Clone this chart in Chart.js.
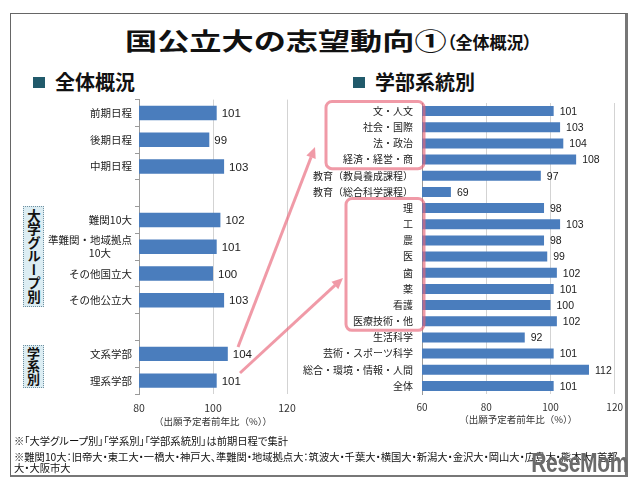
<!DOCTYPE html>
<html lang="ja">
<head>
<meta charset="utf-8">
<script src="https://cdn.jsdelivr.net/npm/chart.js@4.4.1/dist/chart.umd.min.js"></script>
<style>
body{margin:0;width:640px;height:485px;background:#fff;position:relative;overflow:hidden;font-family:"Noto Sans CJK JP",sans-serif;color:#111;}
.abs{position:absolute;white-space:nowrap;}
#frame{position:absolute;left:10px;top:13px;width:614px;height:461px;border:1px solid #666;border-right:3px solid #777;border-bottom:2px solid #777;}
#title{left:125px;top:28px;font-size:24px;line-height:24px;font-weight:bold;transform:scaleX(1.34);transform-origin:left center;}
#subtitle{left:447px;top:33px;font-size:17px;line-height:18px;font-weight:bold;font-feature-settings:"palt";}
.sq{position:absolute;width:12px;height:11px;background:#215a6b;}
.hdr{font-size:20px;line-height:20px;font-weight:bold;}
.vbox{position:absolute;background:#dcedf3;border:1px dotted #6f8f9f;writing-mode:vertical-rl;font-weight:bold;color:#111;text-align:center;white-space:nowrap;}
.foot{font-size:10.3px;line-height:12px;font-feature-settings:"palt";color:#111;}
canvas{position:absolute;}
#logo{right:12px;top:448px;font-family:"Liberation Sans",sans-serif;font-weight:bold;font-size:27px;color:#6b6b6b;transform:scaleX(0.78);transform-origin:right center;letter-spacing:-0.5px;}
</style>
</head>
<body>
<div id="frame"></div>
<div class="abs" id="title">国公立大の志望動向①</div>
<div class="abs" id="subtitle">（全体概況）</div>

<div class="sq" style="left:33px;top:77px"></div>
<div class="abs hdr" style="left:55px;top:72px">全体概況</div>
<div class="sq" style="left:353px;top:77px"></div>
<div class="abs hdr" style="left:375px;top:72px">学部系統別</div>

<div class="vbox" style="left:23px;top:206px;width:19px;height:99px;font-size:13.5px;line-height:19px">大学グループ別</div>
<div class="vbox" style="left:23px;top:345px;width:19px;height:41px;font-size:13px;line-height:19px">学系別</div>

<canvas id="overview" width="265" height="342" style="left:45px;top:90px"></canvas>
<canvas id="faculty" width="330" height="338" style="left:300px;top:88px"></canvas>
<canvas id="notes" width="640" height="485" style="left:0;top:0;pointer-events:none"></canvas>

<div class="abs foot" style="left:14px;top:435px">※「大学グループ別」「学系別」「学部系統別」は前期日程で集計</div>
<div class="abs foot" style="left:14px;top:451px">※難関10大：旧帝大・東工大・一橋大・神戸大、準難関・地域拠点大：筑波大・千葉大・横国大・新潟大・金沢大・岡山大・広島大・熊本大・首都</div>
<div class="abs foot" style="left:14px;top:462px">大・大阪市大</div>
<div class="abs" id="logo">ReseMom</div>

<script>
// 全体概況
const overviewLabels=['前期日程','後期日程','中期日程','','難関10大',['準難関・地域拠点','10大\u3000\u3000'],'その他国立大','その他公立大','','文系学部','理系学部']
const overviewValues=[101,99,103,null,102,101,100,103,null,104,101]
const overviewTicks=[80,100,120]

// 学部系統別
const facultyLabels=['文・人文','社会・国際','法・政治','経済・経営・商','教育（教員養成課程）','教育（総合科学課程）','理','工','農','医','歯','薬','看護','医療技術・他','生活科学','芸術・スポーツ科学','総合・環境・情報・人間','全体']
const facultyValues=[101,103,104,108,97,69,98,103,98,99,102,101,100,102,92,101,112,101]
const facultyTicks=[60,80,100,120]

const axisTitle='（出願予定者前年比（%））'

Chart.defaults.font.family='"Noto Sans CJK JP", sans-serif'

const valueLabels={
  id:'valueLabels',
  afterDatasetsDraw(chart,args,opts){
    const ctx=chart.ctx
    const meta=chart.getDatasetMeta(0)
    const vals=chart.data.datasets[0].data
    ctx.save()
    ctx.font=opts.font
    ctx.fillStyle='#1a1a1a'
    ctx.textBaseline='middle'
    ctx.textAlign='left'
    meta.data.forEach((el,i)=>{
      if(vals[i]==null) return
      ctx.fillText(vals[i],el.x+opts.gap,el.y+1)
    })
    ctx.restore()
  }
}

function barChart(id,labels,values,ticks,o){
  return new Chart(document.getElementById(id),{
    type:'bar',
    data:{
      labels:labels,
      datasets:[{data:values,backgroundColor:'#4a7dbd',barPercentage:o.bar,categoryPercentage:1}]
    },
    options:{
      indexAxis:'y',
      responsive:false,
      animation:false,
      layout:{padding:{top:o.top,right:o.right,left:0,bottom:0}},
      plugins:{legend:{display:false},tooltip:{enabled:false},valueLabels:{font:o.valFont,gap:o.gap}},
      scales:{
        x:{
          min:ticks[0],max:ticks[ticks.length-1],
          afterBuildTicks:s=>{s.ticks=ticks.map(v=>({value:v}))},
          afterFit:s=>{s.height=o.xh},
          grid:{color:'#d3d3d3',drawTicks:false},
          border:{display:false},
          ticks:{padding:o.tickPad,color:'#333',font:{size:o.tickSize}},
          title:{display:true,text:axisTitle,color:'#333',font:{size:9.5},padding:{top:0,bottom:o.titlePad}}
        },
        y:{
          afterFit:s=>{s.width=o.yw},
          grid:{drawOnChartArea:false,drawTicks:o.yTicks,tickLength:4,color:'#9a9a9a'},
          border:{display:true,color:'#9a9a9a'},
          ticks:{padding:o.labelPad,color:'#222',autoSkip:false,font:{size:o.labelSize}}
        }
      }
    },
    plugins:[valueLabels]
  })
}

const chartL=barChart('overview',overviewLabels,overviewValues,overviewTicks,
  {bar:0.54,top:9.6,right:23,xh:38,yw:94,tickPad:8,tickSize:10.5,titlePad:5.3,yTicks:true,labelPad:3,labelSize:10.5,valFont:'11.5px "Liberation Sans"',gap:5})
const chartR=barChart('faculty',facultyLabels,facultyValues,facultyTicks,
  {bar:0.62,top:7,right:13,xh:32,yw:122,tickPad:7,tickSize:10,titlePad:1.3,yTicks:false,labelPad:9,labelSize:10,valFont:'10.5px "Liberation Sans"',gap:6})

// pink boxes + arrows
const nctx=document.getElementById('notes').getContext('2d')
const yR=chartR.scales.y
const rx=300,ry=88
const step=yR.getPixelForValue(1)-yR.getPixelForValue(0)
function box(first,last,left){
  const top=ry+yR.getPixelForValue(first)-step/2-1.5
  const bottom=ry+yR.getPixelForValue(last)+step/2+1
  const right=rx+yR.right+2
  nctx.beginPath()
  nctx.roundRect(left,top,right-left,bottom-top,6)
  nctx.stroke()
}
function arrow(x1,y1,x2,y2){
  const a=Math.atan2(y2-y1,x2-x1),len=11,hw=5
  const bx=x2-len*Math.cos(a),by=y2-len*Math.sin(a)
  nctx.beginPath();nctx.moveTo(x1,y1);nctx.lineTo(bx,by);nctx.stroke()
  nctx.beginPath()
  nctx.moveTo(x2,y2)
  nctx.lineTo(bx+hw*Math.sin(a),by-hw*Math.cos(a))
  nctx.lineTo(bx-hw*Math.sin(a),by+hw*Math.cos(a))
  nctx.closePath();nctx.fill()
}
nctx.strokeStyle='rgba(232,100,120,0.65)'
nctx.fillStyle='rgba(232,100,120,0.65)'
nctx.lineWidth=3
box(0,3,326)
box(6,13,346)
arrow(238,347,315,147)
arrow(240,373,343,278)
</script>
</body>
</html>
